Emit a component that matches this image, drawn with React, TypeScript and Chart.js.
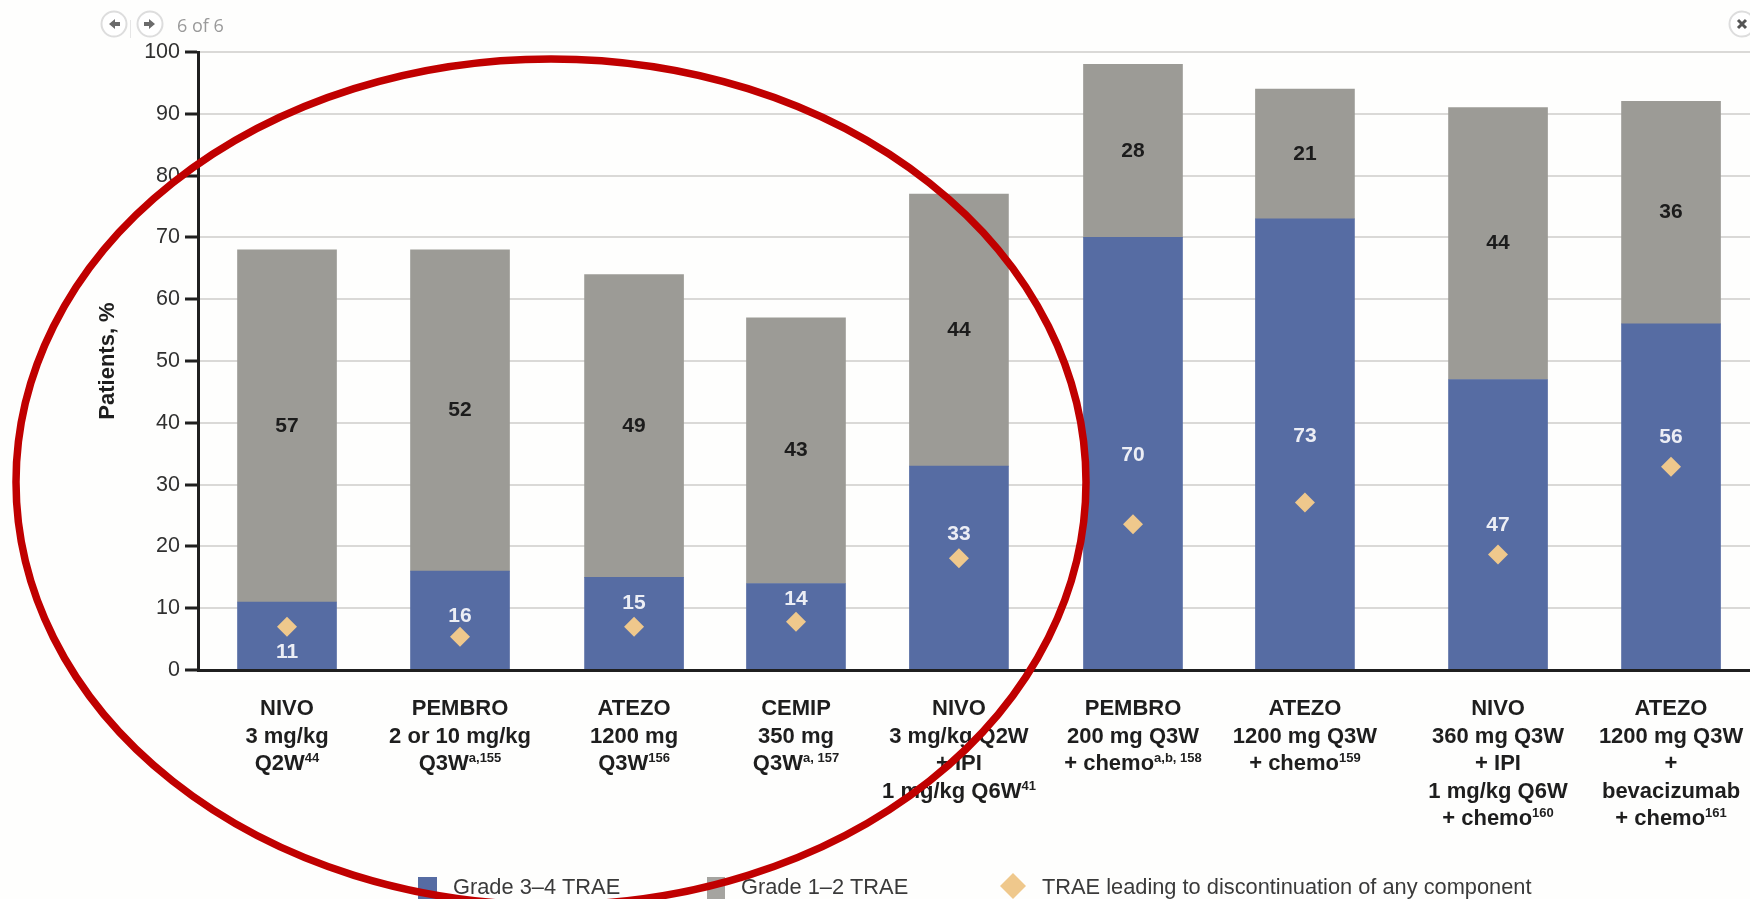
import { useEffect, useRef } from "react";
import { Chart, registerables } from "chart.js";

Chart.register(...registerables);

const xSlots = [1, 2, 3.006, 3.942, 4.884, 5.89, 6.884, 8, 9];
const grade34 = [11, 16, 15, 14, 33, 70, 73, 47, 56];
const grade12 = [57, 52, 49, 43, 44, 28, 21, 44, 36];
const discontinued = [7, 5.4, 7, 7.8, 18.1, 23.6, 27.1, 18.7, 32.9];
const grade34LabelLevels = [2.9, 8.7, 10.8, 11.4, 22, 34.7, 37.8, 23.5, 37.6];
const yTicks = { min: 0, max: 100, step: 10 };

// "^" introduces the superscript reference at the end of a line.
const treatmentLabels = [
  ["NIVO", "3 mg/kg", "Q2W^44"],
  ["PEMBRO", "2 or 10 mg/kg", "Q3W^a,155"],
  ["ATEZO", "1200 mg", "Q3W^156"],
  ["CEMIP", "350 mg", "Q3W^a, 157"],
  ["NIVO", "3 mg/kg Q2W", "+ IPI", "1 mg/kg Q6W^41"],
  ["PEMBRO", "200 mg Q3W", "+ chemo^a,b, 158"],
  ["ATEZO", "1200 mg Q3W", "+ chemo^159"],
  ["NIVO", "360 mg Q3W", "+ IPI", "1 mg/kg Q6W", "+ chemo^160"],
  ["ATEZO", "1200 mg Q3W", "+", "bevacizumab", "+ chemo^161"],
];
const legendNames = ["Grade 3–4 TRAE", "Grade 1–2 TRAE", "TRAE leading to discontinuation of any component"];

const BLUE = "#566ca3";
const GREY = "#9c9b96";
const DIAMOND = "#efc88c";
const RED = "#c00000";
const SANS = "'Liberation Sans', Arial, sans-serif";

const fill = (ctx: CanvasRenderingContext2D, color: string, font: string) => {
  ctx.fillStyle = color;
  ctx.font = font;
};

const barLabels = {
  id: "barLabels",
  afterDatasetsDraw(chart: any) {
    const { ctx, scales } = chart;
    ctx.save();
    ctx.textAlign = "center";
    ctx.textBaseline = "middle";
    xSlots.forEach((slot, i) => {
      const x = scales.x.getPixelForValue(slot);
      fill(ctx, "#eceef5", `bold 21px ${SANS}`);
      ctx.fillText(String(grade34[i]), x, scales.y.getPixelForValue(grade34LabelLevels[i]));
      fill(ctx, "#1c1c1c", `bold 21px ${SANS}`);
      ctx.fillText(String(grade12[i]), x, scales.y.getPixelForValue(grade34[i] + grade12[i] / 2));
    });
    ctx.restore();
  },
};

const treatmentAxis = {
  id: "treatmentAxis",
  afterDraw(chart: any) {
    const { ctx, scales } = chart;
    const lineFont = `bold 22px ${SANS}`;
    const supFont = `bold 13px ${SANS}`;
    ctx.save();
    ctx.textBaseline = "alphabetic";
    ctx.textAlign = "left";
    xSlots.forEach((slot, i) => {
      const cx = scales.x.getPixelForValue(slot);
      treatmentLabels[i].forEach((line, row) => {
        const [main, sup] = line.split("^");
        const y = 715 + row * 27.5;
        ctx.font = lineFont;
        const mainWidth = ctx.measureText(main).width;
        ctx.font = supFont;
        const supWidth = sup ? ctx.measureText(sup).width : 0;
        const left = cx - (mainWidth + supWidth) / 2;
        fill(ctx, "#1e1e1e", lineFont);
        ctx.fillText(main, left, y);
        if (sup) {
          fill(ctx, "#1e1e1e", supFont);
          ctx.fillText(sup, left + mainWidth, y - 8);
        }
      });
    });
    ctx.restore();
  },
};

const legendRow = {
  id: "legendRow",
  afterDraw(chart: any) {
    const { ctx } = chart;
    const font = `21.8px ${SANS}`;
    ctx.save();
    ctx.fillStyle = BLUE;
    ctx.fillRect(418, 877, 19, 22);
    ctx.fillStyle = "#a5a4a0";
    ctx.fillRect(707, 877, 18, 22);
    ctx.fillStyle = DIAMOND;
    ctx.beginPath();
    ctx.moveTo(1013, 873);
    ctx.lineTo(1026, 886);
    ctx.lineTo(1013, 899);
    ctx.lineTo(1000, 886);
    ctx.closePath();
    ctx.fill();
    fill(ctx, "#3a3a3a", font);
    ctx.textBaseline = "alphabetic";
    ctx.fillText(legendNames[0], 453, 894);
    ctx.fillText(legendNames[1], 741, 894);
    ctx.fillText(legendNames[2], 1042, 894);
    ctx.restore();
  },
};

const viewerChrome = {
  id: "viewerChrome",
  afterDraw(chart: any) {
    const { ctx } = chart;
    const ring = (x: number) => {
      ctx.beginPath();
      ctx.arc(x, 24, 12.5, 0, Math.PI * 2);
      ctx.fillStyle = "#ffffff";
      ctx.fill();
      ctx.lineWidth = 2;
      ctx.strokeStyle = "#dddddd";
      ctx.stroke();
    };
    const arrow = (x: number, dir: number) => {
      ctx.fillStyle = "#6b6b6b";
      ctx.beginPath();
      ctx.moveTo(x + dir * 6, 24);
      ctx.lineTo(x, 19);
      ctx.lineTo(x, 22);
      ctx.lineTo(x - dir * 5, 22);
      ctx.lineTo(x - dir * 5, 26);
      ctx.lineTo(x, 26);
      ctx.lineTo(x, 29);
      ctx.closePath();
      ctx.fill();
    };
    ctx.save();
    ring(114);
    arrow(115, -1);
    ring(150);
    arrow(149, 1);
    ctx.strokeStyle = "#e6e6e6";
    ctx.lineWidth = 1;
    ctx.beginPath();
    ctx.moveTo(130.5, 20);
    ctx.lineTo(130.5, 38);
    ctx.stroke();
    fill(ctx, "#9a9a9a", "18px 'Open Sans', sans-serif");
    ctx.textBaseline = "alphabetic";
    ctx.fillText("6 of 6", 177, 32);
    ring(1742);
    ctx.strokeStyle = "#555555";
    ctx.lineWidth = 3;
    ctx.beginPath();
    ctx.moveTo(1738, 20);
    ctx.lineTo(1746, 28);
    ctx.moveTo(1746, 20);
    ctx.lineTo(1738, 28);
    ctx.stroke();
    ctx.restore();
  },
};

// Hand-drawn style emphasis ring around the single-agent regimens.
const emphasisRing = {
  id: "emphasisRing",
  afterDraw(chart: any) {
    const { ctx } = chart;
    ctx.save();
    ctx.strokeStyle = RED;
    ctx.lineWidth = 7.5;
    ctx.beginPath();
    ctx.ellipse(551, 482, 535, 423, 0, 0, Math.PI * 2);
    ctx.stroke();
    ctx.restore();
  },
};

const pageBackground = {
  id: "pageBackground",
  beforeDraw(chart: any) {
    const { ctx, width, height } = chart;
    ctx.save();
    ctx.fillStyle = "#fefefd";
    ctx.fillRect(0, 0, width, height);
    ctx.restore();
  },
};

export default function App() {
  const canvasRef = useRef<HTMLCanvasElement | null>(null);

  useEffect(() => {
    if (!canvasRef.current) return;
    const chart = new Chart(canvasRef.current, {
      type: "bar",
      data: {
        datasets: [
          {
            type: "scatter",
            label: legendNames[2],
            data: xSlots.map((x, i) => ({ x, y: discontinued[i] })),
            backgroundColor: DIAMOND,
            borderWidth: 0,
            pointStyle: "rectRot",
            pointRadius: 10,
            showLine: false,
            order: 0,
          },
          {
            label: legendNames[0],
            data: xSlots.map((x, i) => ({ x, y: grade34[i] })),
            backgroundColor: BLUE,
            barThickness: 99,
            order: 1,
          },
          {
            label: legendNames[1],
            data: xSlots.map((x, i) => ({ x, y: grade12[i] })),
            backgroundColor: GREY,
            barThickness: 99,
            order: 1,
          },
        ] as any,
      },
      options: {
        responsive: false,
        animation: false,
        layout: { autoPadding: false, padding: { top: 52, left: 0, right: 0, bottom: 0 } },
        plugins: { legend: { display: false }, tooltip: { enabled: false } },
        scales: {
          x: {
            type: "linear",
            offset: false,
            stacked: true,
            min: 0.4855,
            max: 9.4565,
            afterFit: (scale: any) => {
              scale.height = 229;
            },
            ticks: { display: false },
            grid: { display: false },
            border: { display: true, color: "#1f1f1f", width: 3, z: 1 },
          },
          y: {
            stacked: true,
            min: yTicks.min,
            max: yTicks.max,
            afterFit: (scale: any) => {
              scale.width = 198;
            },
            ticks: {
              stepSize: yTicks.step,
              padding: 5,
              color: "#303030",
              font: { family: SANS, size: 21.5 },
            },
            grid: {
              color: "#dad9d7",
              lineWidth: 2,
              tickLength: 13,
              tickColor: "#1f1f1f",
              tickWidth: 3,
            },
            border: { display: true, color: "#1f1f1f", width: 3, z: 1 },
            title: {
              display: true,
              text: "Patients, %",
              color: "#1e1e1e",
              font: { family: SANS, size: 22, weight: "bold" },
              padding: { top: 95, bottom: 0 },
            },
          },
        },
      } as any,
      plugins: [pageBackground, barLabels, treatmentAxis, legendRow, viewerChrome, emphasisRing],
    });
    return () => chart.destroy();
  }, []);

  return (
    <div style={{ position: "fixed", left: 0, top: 0, width: 1750, height: 899 }}>
      <canvas ref={canvasRef} width={1750} height={899} style={{ display: "block" }} />
    </div>
  );
}
